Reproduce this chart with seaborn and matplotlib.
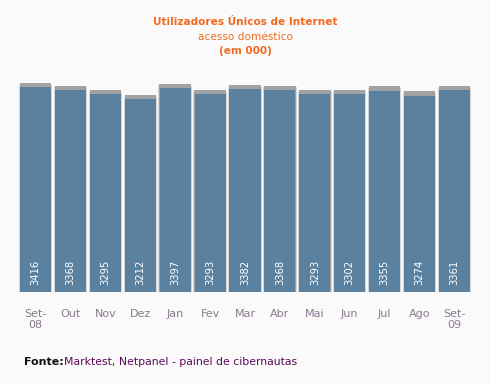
import pandas as pd
import matplotlib.pyplot as plt
import seaborn as sns

# Data
months = ['Set-\n08', 'Out', 'Nov', 'Dez', 'Jan', 'Fev', 'Mar', 'Abr', 'Mai', 'Jun', 'Jul', 'Ago', 'Set-\n09']
users = [3416, 3368, 3295, 3212, 3397, 3293, 3382, 3368, 3293, 3302, 3355, 3274, 3361]

data = pd.DataFrame({'month': months, 'users': users})
data['halo'] = data['users'] + 40
data['shadow'] = data['users'] + 70

sns.set_theme(style="white")
plt.rcParams['font.family'] = ['DejaVu Sans']

bg = '#fafafa'
fig = plt.figure(figsize=(4.9, 3.83), dpi=100, facecolor=bg)
ax = fig.add_axes([0.037, 0.2376, 0.926, 0.5666])
ax.set_facecolor(bg)

# Soft shadow around and above each bar
sns.barplot(data=data, x='month', y='halo', order=months, color='#d6d6d6',
            width=0.96, saturation=1, linewidth=0, ax=ax)
sns.barplot(data=data, x='month', y='shadow', order=months, color='#a2a2a2',
            width=0.9, saturation=1, linewidth=0, ax=ax)
sns.barplot(data=data, x='month', y='users', order=months, color='#5b81a1',
            width=0.89, saturation=1, linewidth=0, ax=ax)

for i, v in enumerate(users):
    ax.text(i, 120, str(v), rotation=90, ha='center', va='bottom',
            color='white', fontsize=7.2)

ax.set_ylim(0, 3616)
ax.set_xlim(-0.5, len(months) - 0.5)
ax.set_yticks([])
ax.set_xlabel('')
ax.set_ylabel('')
ax.tick_params(axis='x', length=0, pad=12, labelsize=8, labelcolor='#8a7a8e')
for s in ax.spines.values():
    s.set_visible(False)

fig.text(0.5, 1 - 22 / 383, 'Utilizadores Únicos de Internet', ha='center', va='center',
         color='#f26a21', fontsize=7.6, fontweight='bold')
fig.text(0.5, 1 - 37 / 383, 'acesso doméstico', ha='center', va='center',
         color='#f26a21', fontsize=7.6)
fig.text(0.5, 1 - 51 / 383, '(em 000)', ha='center', va='center',
         color='#f26a21', fontsize=7.6, fontweight='bold')

fig.text(24 / 490, 1 - 362 / 383, 'Fonte:', ha='left', va='center',
         color='#111111', fontsize=8, fontweight='bold')
fig.text(64 / 490, 1 - 362 / 383, 'Marktest, Netpanel - painel de cibernautas',
         ha='left', va='center', color='#5a0a5a', fontsize=7.8)

fig.savefig('out.png', dpi=100, facecolor=bg)
